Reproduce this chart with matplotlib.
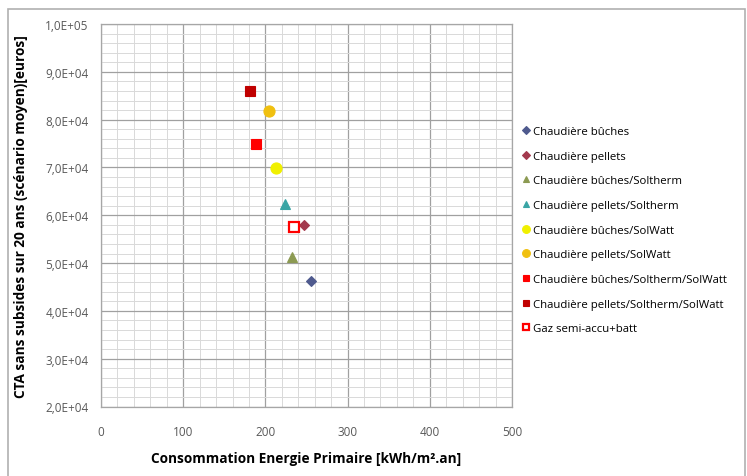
import matplotlib
matplotlib.use("Agg")
import matplotlib.pyplot as plt
from matplotlib.ticker import MultipleLocator, FuncFormatter
from matplotlib.patches import Rectangle

plt.rcParams['font.family'] = ['Open Sans', 'DejaVu Sans']

# Systems compared: primary energy use vs. 20-year total cost
labels = [
    "Chaudière bûches",
    "Chaudière pellets",
    "Chaudière bûches/Soltherm",
    "Chaudière pellets/Soltherm",
    "Chaudière bûches/SolWatt",
    "Chaudière pellets/SolWatt",
    "Chaudière bûches/Soltherm/SolWatt",
    "Chaudière pellets/Soltherm/SolWatt",
    "Gaz semi-accu+batt",
]
energie = [255, 247, 232, 224, 213, 204, 189, 181, 235]
cout = [46250, 58000, 51300, 62300, 69900, 81700, 74900, 86000, 57500]

markers = ['D', 'D', '^', '^', 'o', 'o', 's', 's', 's']
faces = ['#4f5a8e', '#a3394d', '#8c9a52', '#3aa5a5', '#f0f000', '#f0c010',
         '#ff0000', '#c00000', 'white']
edges = ['#4f5a8e', '#a3394d', '#8c9a52', '#3aa5a5', '#f0f000', '#f0c010',
         '#ff0000', '#c00000', '#ff0000']
sizes = [5.5, 5.5, 7, 7, 8, 8, 7, 7, 7]

fig = plt.figure(figsize=(7.47, 4.77), dpi=100)
ax = fig.add_axes([101 / 747, 1 - 407.5 / 477, 411 / 747, 382.5 / 477])

for x, y, lab, m, fc, ec, s in zip(energie, cout, labels, markers, faces, edges, sizes):
    ax.plot([x], [y], linestyle='none', marker=m, markersize=s,
            markerfacecolor=fc, markeredgecolor=ec,
            markeredgewidth=1.6 if fc == 'white' else 0.8, label=lab, zorder=3)

ax.set_xlim(0, 500)
ax.set_ylim(20000, 100000)
ax.xaxis.set_major_locator(MultipleLocator(100))
ax.xaxis.set_minor_locator(MultipleLocator(20))
ax.yaxis.set_major_locator(MultipleLocator(10000))
ax.yaxis.set_minor_locator(MultipleLocator(2000))
ax.yaxis.set_major_formatter(FuncFormatter(
    lambda v, p: ("%.1E" % v).replace('.', ',')))

ax.grid(which='major', color='#a0a0a0', linewidth=0.9)
ax.grid(which='minor', color='#d9d9d9', linewidth=0.7)
ax.set_axisbelow(True)
ax.tick_params(which='both', length=0)
ax.tick_params(axis='x', pad=13.5, labelsize=8.5, labelcolor='#595959')
ax.tick_params(axis='y', pad=9, labelsize=8.5, labelcolor='#595959')
for sp in ax.spines.values():
    sp.set_color('#a6a6a6')
    sp.set_linewidth(0.9)

ax.set_xlabel("Consommation Energie Primaire [kWh/m².an]", fontsize=9.8,
              fontweight='bold', labelpad=9.5)
ax.set_ylabel("CTA sans subsides sur 20 ans (scénario moyen)[euros]", fontsize=9.8,
              fontweight='bold', labelpad=12)

fig.legend(loc='upper left', bbox_to_anchor=(0.690, 0.743), frameon=False,
           fontsize=8.2, labelspacing=1.20, handletextpad=0.1, handlelength=1.0,
           markerscale=0.7, borderaxespad=0)

fig.patches.append(Rectangle((8 / 747, -0.01), 737 / 747, 1 - 10 / 477 + 0.01,
                             transform=fig.transFigure, fill=False,
                             edgecolor='#b0b0b0', linewidth=1.2))

fig.savefig("out.png", dpi=100)
